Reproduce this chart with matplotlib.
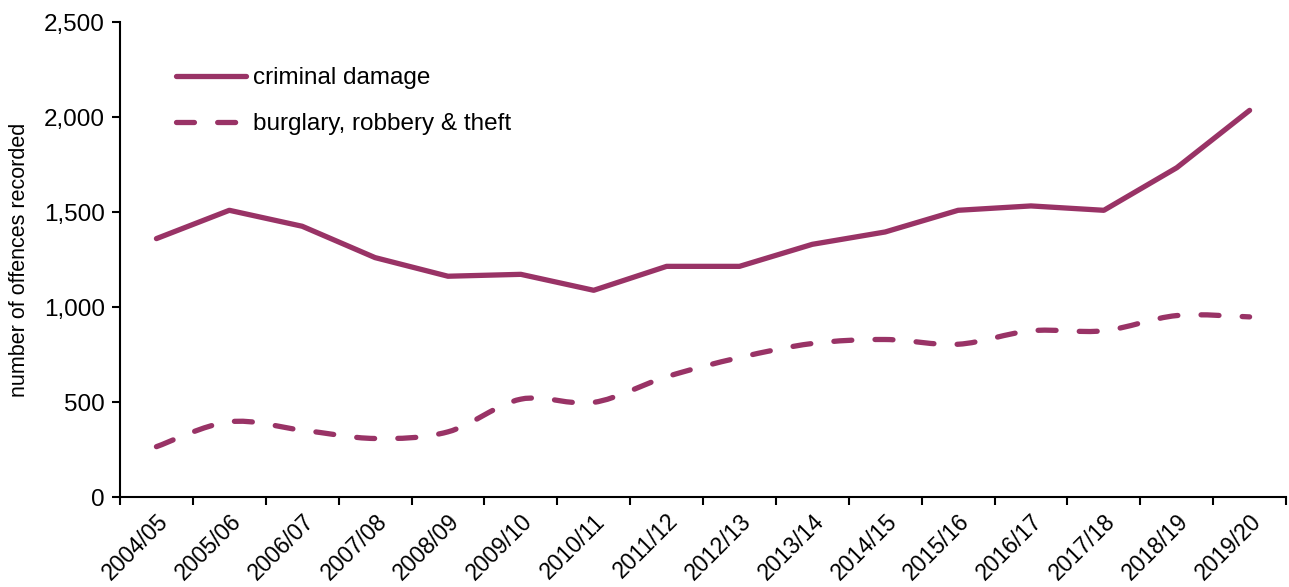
import matplotlib
matplotlib.use('Agg')
import matplotlib.pyplot as plt
import matplotlib.transforms as mtransforms
import numpy as np
from matplotlib.path import Path
from matplotlib.patches import PathPatch
from matplotlib.lines import Line2D
from matplotlib.ticker import FuncFormatter

plt.rcParams['font.family'] = ['Liberation Sans', 'DejaVu Sans']

# ── Data ──────────────────────────────────────────────────────────────────────
years = ['2004/05', '2005/06', '2006/07', '2007/08', '2008/09', '2009/10',
         '2010/11', '2011/12', '2012/13', '2013/14', '2014/15', '2015/16',
         '2016/17', '2017/18', '2018/19', '2019/20']
criminal_damage = [1360, 1509, 1425, 1260, 1162, 1172, 1088, 1214,
                   1214, 1330, 1395, 1509, 1532, 1509, 1733, 2035]
burglary_theft = [265, 396, 352, 308, 343, 515, 498, 633,
                  734, 808, 829, 804, 875, 875, 955, 948]

COL = '#993366'
LW = 3.8
DASH = (3.4, 4.4)


def smooth_path(xs, ys):
    # Excel-style smoothed line: Catmull-Rom segments as cubic Beziers
    pts = np.column_stack([xs, ys]).astype(float)
    verts = [pts[0]]
    codes = [Path.MOVETO]
    n = len(pts)
    for i in range(n - 1):
        p0 = pts[max(i - 1, 0)]
        p1 = pts[i]
        p2 = pts[i + 1]
        p3 = pts[min(i + 2, n - 1)]
        c1 = p1 + (p2 - p0) / 6.0
        c2 = p2 - (p3 - p1) / 6.0
        verts += [c1, c2, p2]
        codes += [Path.CURVE4] * 3
    return Path(verts, codes)


fig = plt.figure(figsize=(12.89, 5.87), dpi=100)
ax = fig.add_axes([0.0931, 0.1533, 0.9046, 0.8092])

x = np.arange(len(years))
ax.plot(x, criminal_damage, color=COL, lw=LW, solid_capstyle='round',
        solid_joinstyle='round', zorder=3)

patch = PathPatch(smooth_path(x, burglary_theft), fill=False, edgecolor=COL,
                  lw=LW, linestyle=(0, DASH), capstyle='round', zorder=3)
ax.add_patch(patch)

ax.set_xlim(-0.5, len(years) - 0.5)
ax.set_ylim(0, 2500)
ax.set_yticks(np.arange(0, 2501, 500))
ax.yaxis.set_major_formatter(FuncFormatter(lambda v, p: f'{int(v):,}'))

ax.set_xticks(x)
ax.set_xticklabels(years, rotation=45, ha='right', va='top',
                   rotation_mode='anchor', fontsize=16.5)
shift = mtransforms.ScaledTranslation(5 / 100, 0, fig.dpi_scale_trans)
for lbl in ax.get_xticklabels():
    lbl.set_transform(lbl.get_transform() + shift)
ax.set_xticks(np.arange(-0.5, len(years)), minor=True)
ax.tick_params(axis='x', which='major', length=0, pad=9)
ax.tick_params(axis='x', which='minor', length=6, width=1.5, direction='out')
ax.tick_params(axis='y', length=6, width=1.5, direction='out',
               labelsize=17.5, pad=5)

for s in ['top', 'right']:
    ax.spines[s].set_visible(False)
for s in ['left', 'bottom']:
    ax.spines[s].set_linewidth(1.5)

ax.set_ylabel('number of offences recorded', fontsize=15.5)
ax.yaxis.set_label_coords(-0.077, 0.5)

handles = [
    Line2D([], [], color=COL, lw=LW, solid_capstyle='round'),
    Line2D([], [], color=COL, lw=LW, dashes=DASH, dash_capstyle='round'),
]
ax.legend(handles, ['criminal damage', 'burglary, robbery & theft'],
          loc='upper left', bbox_to_anchor=(176 / 1289, 1 - 67 / 587),
          bbox_transform=fig.transFigure, frameon=False, fontsize=17.5,
          handlelength=2.9, handletextpad=0.25, labelspacing=1.0,
          borderpad=0, borderaxespad=0)

fig.savefig('out.png', dpi=100)
